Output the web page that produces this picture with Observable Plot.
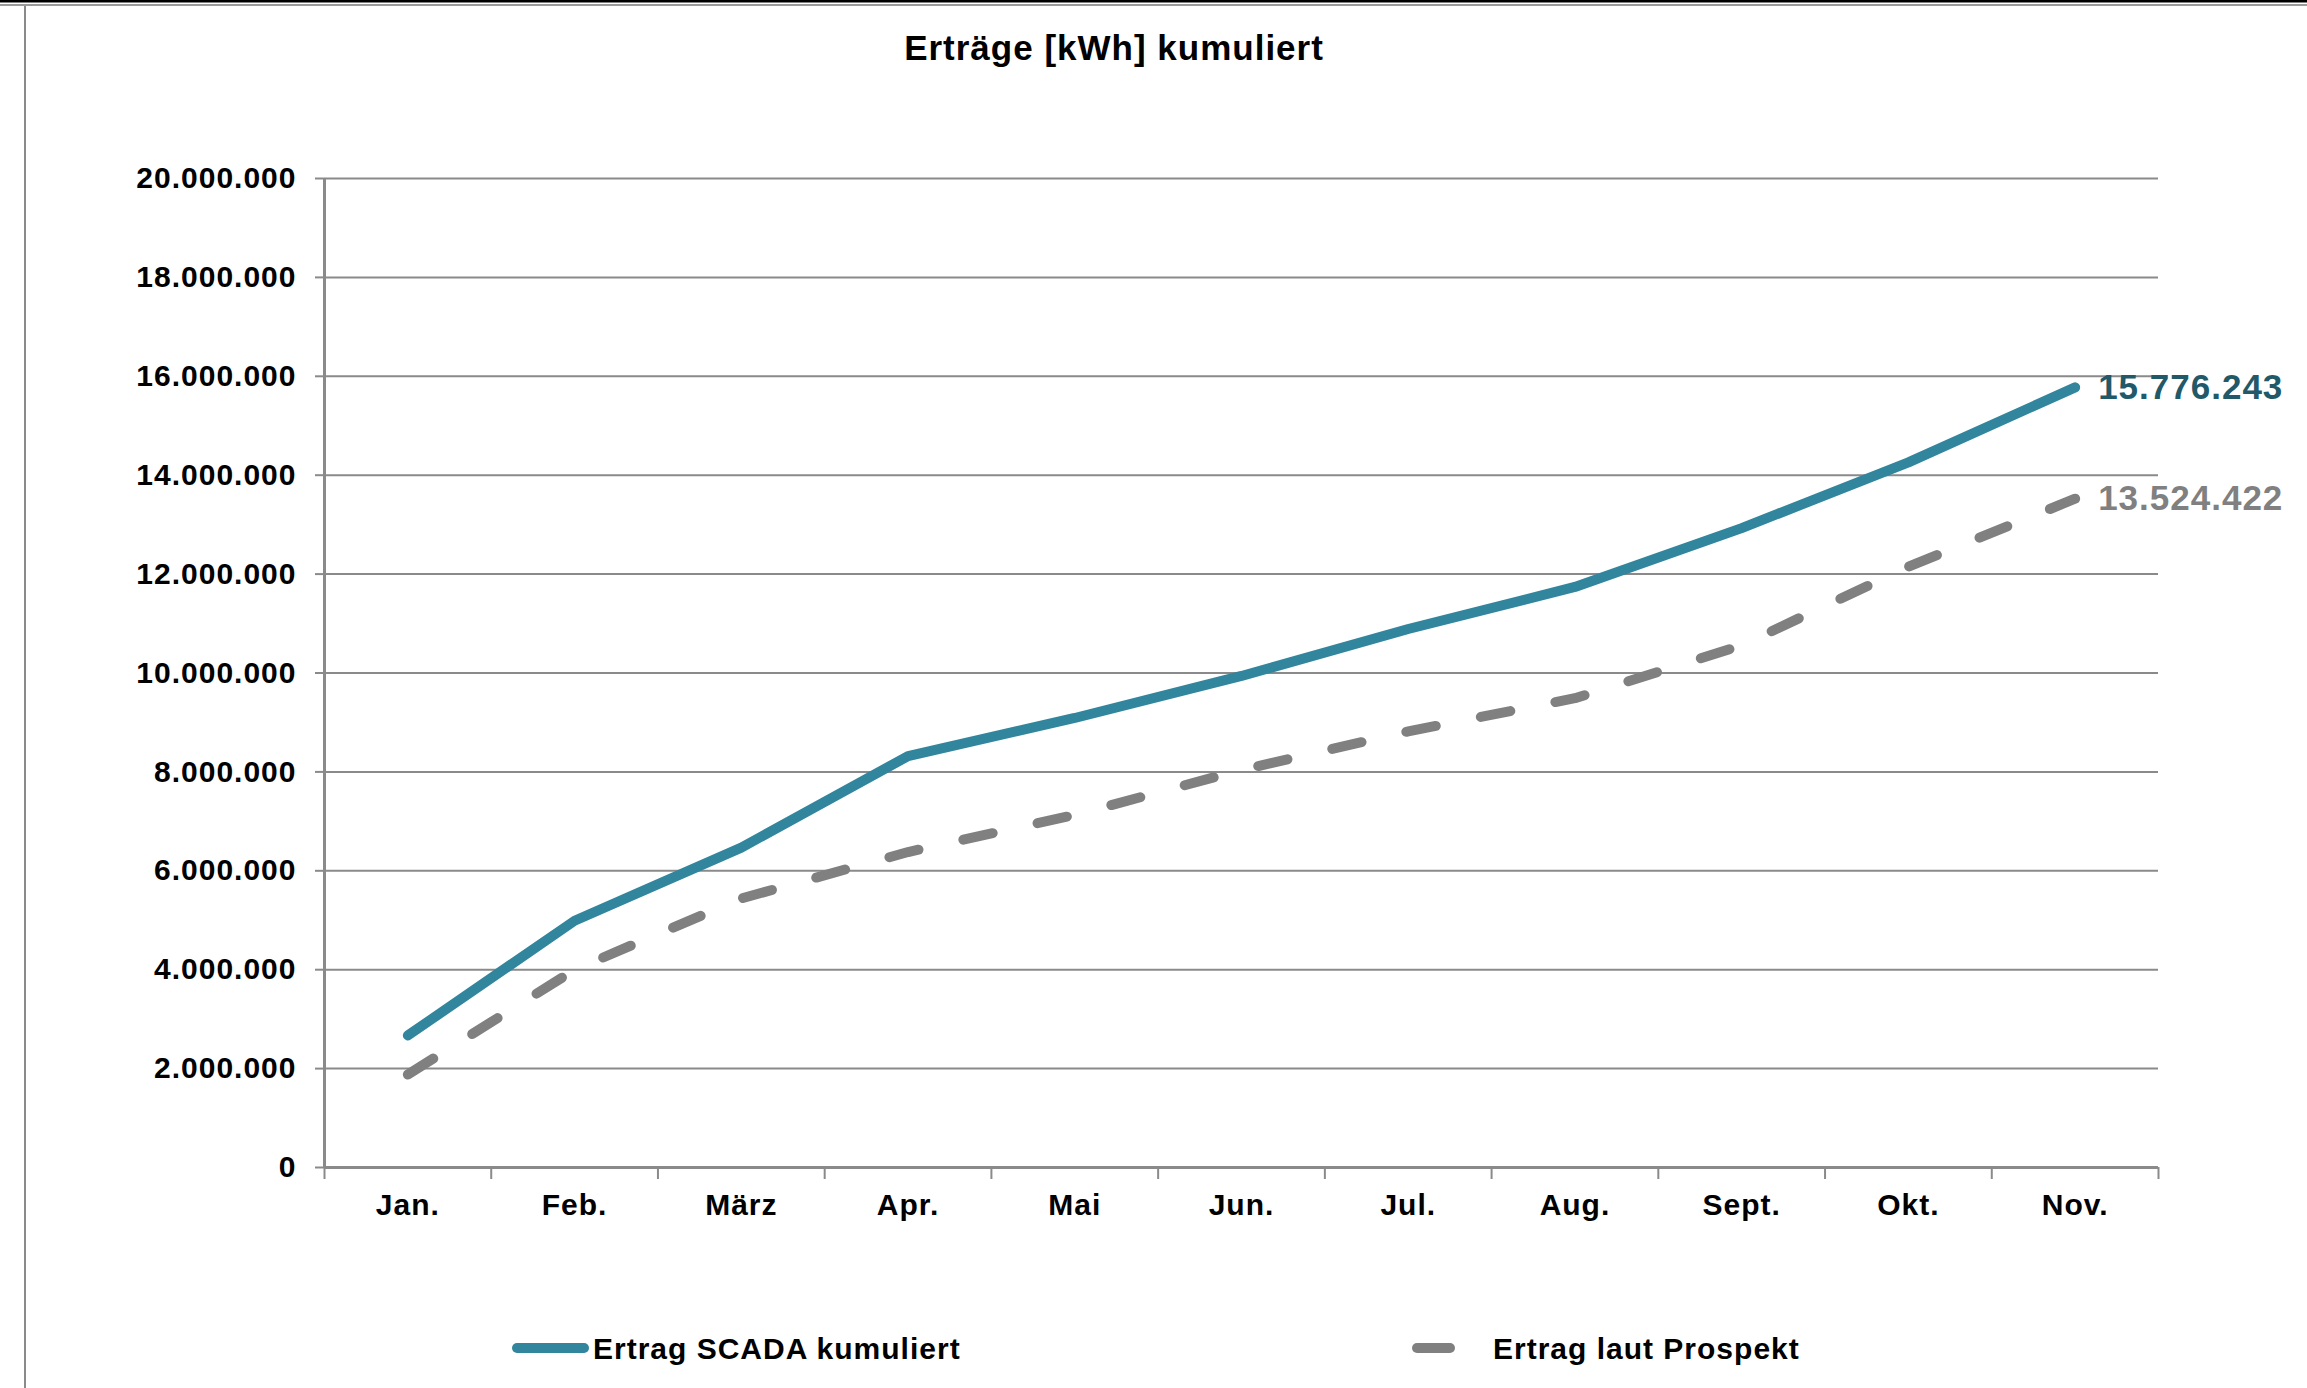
<!DOCTYPE html>
<html>
<head>
<meta charset="utf-8">
<script src="https://cdn.jsdelivr.net/npm/d3@7"></script>
<script src="https://cdn.jsdelivr.net/npm/@observablehq/plot@0.6"></script>
<style>
  html, body { margin: 0; padding: 0; background: #fff; }
  #wrap { position: relative; width: 2307px; height: 1388px; overflow: hidden; background: #fff; }
  #wrap > svg { position: absolute; left: 0; top: 0; }
</style>
</head>
<body>
<div id="wrap"></div>
<script>
// ---- data ----
const months = ["Jan.", "Feb.", "März", "Apr.", "Mai", "Jun.", "Jul.", "Aug.", "Sept.", "Okt.", "Nov."];
const scada = [2670000, 4990000, 6470000, 8320000, 9090000, 9940000, 10890000, 11740000, 12930000, 14260000, 15776243];
const prospekt = [1880000, 4000000, 5440000, 6380000, 7130000, 8040000, 8820000, 9490000, 10560000, 12150000, 13524422];
const yTicks = [0, 2000000, 4000000, 6000000, 8000000, 10000000, 12000000, 14000000, 16000000, 18000000, 20000000];
const seriesNames = ["Ertrag SCADA kumuliert", "Ertrag laut Prospekt"];
const titleText = "Erträge [kWh] kumuliert";

// ---- styles ----
const FONT = "'Liberation Sans', Arial, sans-serif";
const TEAL = "#31859C";
const TEAL_DARK = "#215968";
const GRAY = "#808080";
const GRID = "#8a8a8a";

const de = d3.formatLocale({decimal: ",", thousands: ".", grouping: [3], currency: ["", " €"]});
const fmt = de.format(",d");

const scadaData = months.map((m, i) => ({m, i, xi: i + 0.5, v: scada[i]}));
const prospData = months.map((m, i) => ({m, i, xi: i + 0.5, v: prospekt[i]}));
const lastIdx = months.length - 1;

const chart = Plot.plot({
  width: 2307,
  height: 1388,
  marginTop: 178,
  marginBottom: 221,
  marginLeft: 324,
  marginRight: 149,
  x: {type: "linear", domain: [0, months.length]},
  y: {domain: [0, 20000000]},
  style: {fontFamily: FONT, fontWeight: "bold", fontSize: "30px", letterSpacing: "1px", color: "#000", background: "transparent", overflow: "visible"},
  marks: [
    Plot.gridY(yTicks, {stroke: GRID, strokeOpacity: 1, strokeWidth: 2}),
    Plot.axisY(yTicks, {tickSize: 9, tickPadding: 19, tickFormat: fmt, stroke: GRID, strokeWidth: 2, label: null, fontSize: 30, fontWeight: "bold", fill: "#000"}),
    Plot.axisX(d3.range(months.length + 1), {tickSize: 12, tickFormat: () => "", stroke: GRID, strokeWidth: 2, label: null}),
    Plot.axisX(months.map((m, i) => i + 0.5), {tickSize: 0, tickPadding: 26, tickFormat: d => months[Math.floor(d)], label: null, fontSize: 30, fontWeight: "bold", fill: "#000"}),
    Plot.ruleX([0], {stroke: GRID, strokeWidth: 3}),
    Plot.ruleY([0], {stroke: GRID, strokeWidth: 3}),
    Plot.line(prospData, {x: "xi", y: "v", stroke: GRAY, strokeWidth: 10, strokeDasharray: "30,46", strokeLinecap: "round", strokeLinejoin: "round"}),
    Plot.line(scadaData, {x: "xi", y: "v", stroke: TEAL, strokeWidth: 10, strokeLinecap: "round", strokeLinejoin: "round"}),
    Plot.text([scadaData[lastIdx]], {x: "xi", y: "v", text: d => fmt(d.v), dx: 23, textAnchor: "start", fill: TEAL_DARK, fontSize: 35, fontWeight: "bold"}),
    Plot.text([prospData[lastIdx]], {x: "xi", y: "v", text: d => fmt(d.v), dx: 23, textAnchor: "start", fill: GRAY, fontSize: 35, fontWeight: "bold"})
  ]
});

const wrap = document.getElementById("wrap");
wrap.appendChild(chart);

// ---- overlay: frame, title, legend ----
const ov = d3.select(wrap).append("svg")
  .attr("width", 2307).attr("height", 1388)
  .style("font-family", FONT).style("letter-spacing", "1px").style("pointer-events", "none");

ov.append("rect").attr("x", 0).attr("y", 0).attr("width", 2307).attr("height", 2.5).attr("fill", "#000");
ov.append("rect").attr("x", 0).attr("y", 4).attr("width", 2307).attr("height", 2).attr("fill", "#9a9a9a");
ov.append("rect").attr("x", 24).attr("y", 6).attr("width", 2).attr("height", 1382).attr("fill", "#8a8a8a");

ov.append("text").attr("x", 1114).attr("y", 60).attr("text-anchor", "middle")
  .attr("font-size", 35).attr("font-weight", "bold").attr("fill", "#000").text(titleText);

const legend = [
  {name: seriesNames[0], color: TEAL, x1: 517, x2: 584, tx: 593},
  {name: seriesNames[1], color: GRAY, x1: 1417, x2: 1450, tx: 1493}
];
legend.forEach(l => {
  ov.append("line").attr("x1", l.x1).attr("x2", l.x2).attr("y1", 1348).attr("y2", 1348)
    .attr("stroke", l.color).attr("stroke-width", 10).attr("stroke-linecap", "round");
  ov.append("text").attr("x", l.tx).attr("y", 1359).attr("font-size", 30).attr("font-weight", "bold")
    .attr("fill", "#000").text(l.name);
});
</script>
</body>
</html>
